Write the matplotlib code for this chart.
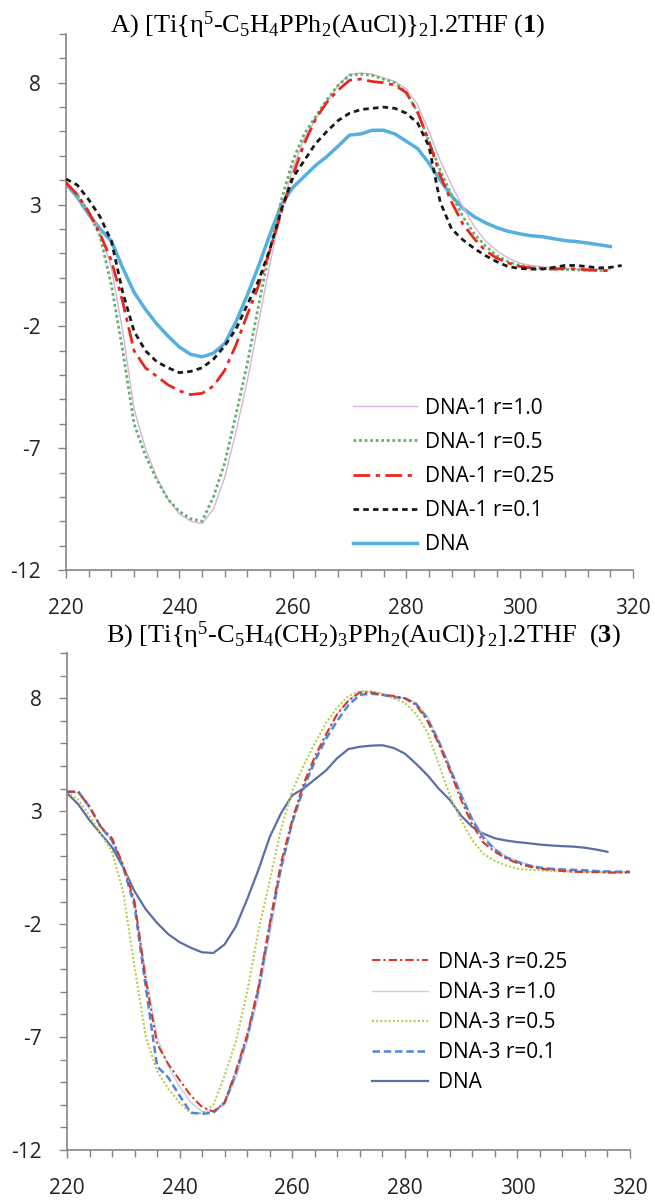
import numpy as np
import matplotlib
matplotlib.use("Agg")
import matplotlib.pyplot as plt
from matplotlib.ticker import MultipleLocator, FixedLocator

# Wavelength grid (nm), shared by all series
wavelength = np.arange(220, 321, 2)

nan = np.nan

# Panel A: DNA + complex 1
a_r10 = [3.85, 3.35, 2.7, 1.9, 0.4, -2.2, -5.4, -7.0, -8.2, -9.1, -9.7, -10.0, -10.1, -9.5, -8.2,
         -6.3, -4.2, -1.8, 0.6, 2.8, 4.5, 5.7, 6.5, 7.2, 7.9, 8.35, 8.4, 8.35, 8.2, 8.05, 7.75,
         7.1, 6.0, 4.8, 3.8, 2.9, 2.1, 1.5, 1.1, 0.8, 0.6, 0.5, 0.45, 0.4, 0.38, 0.36, 0.35,
         0.33, 0.32, nan, nan]
a_r05 = [3.9, 3.4, 2.7, 1.7, -0.3, -3.0, -6.0, -7.3, -8.3, -9.1, -9.6, -9.9, -10.0, -9.0, -7.6,
         -5.6, -3.5, -1.1, 1.2, 3.2, 4.8, 5.9, 6.6, 7.3, 7.9, 8.3, 8.35, 8.3, 8.15, 8.0, 7.6,
         6.8, 5.6, 4.4, 3.4, 2.5, 1.8, 1.3, 0.9, 0.65, 0.5, 0.42, 0.38, 0.35, 0.33, 0.32, 0.3,
         0.3, 0.28, nan, nan]
a_r025 = [3.9, 3.4, 2.7, 1.8, 0.7, -1.0, -3.0, -3.7, -4.05, -4.4, -4.65, -4.8, -4.75, -4.45, -3.8,
          -2.75, -1.5, -0.3, 1.15, 2.7, 4.2, 5.5, 6.5, 7.2, 7.7, 8.1, 8.15, 8.05, 8.0, 7.9, 7.6,
          6.8, 5.6, 4.2, 3.1, 2.2, 1.6, 1.1, 0.8, 0.6, 0.46, 0.4, 0.38, 0.35, 0.38, 0.35, 0.32,
          0.3, 0.28, nan, nan]
a_r01 = [4.05, 3.8, 3.2, 2.5, 1.5, -0.6, -2.2, -3.0, -3.45, -3.7, -3.9, -3.85, -3.7, -3.35, -2.8,
         -2.1, -1.1, -0.1, 1.2, 2.8, 4.1, 4.8, 5.5, 6.0, 6.45, 6.75, 6.9, 6.95, 7.0, 6.95, 6.75,
         6.35, 5.4, 3.1, 2.0, 1.55, 1.2, 0.9, 0.65, 0.45, 0.38, 0.35, 0.35, 0.42, 0.5, 0.5, 0.45,
         0.4, 0.42, 0.5, nan]
a_dna = [3.85, 3.3, 2.6, 2.0, 1.5, 0.4, -0.6, -1.3, -1.9, -2.4, -2.85, -3.15, -3.25, -3.1, -2.7,
         -1.8, -0.7, 0.5, 1.8, 3.0, 3.7, 4.15, 4.6, 4.97, 5.4, 5.85, 5.9, 6.05, 6.05, 5.9, 5.6,
         5.3, 4.7, 4.0, 3.35, 2.85, 2.5, 2.25, 2.05, 1.9, 1.8, 1.72, 1.68, 1.6, 1.52, 1.48, 1.42,
         1.35, 1.28, nan, nan]

# Panel B: DNA + complex 3
b_r025 = [3.86, 3.86, 3.2, 2.3, 1.8, 0.6, -1.0, -4.5, -7.3, -8.2, -8.9, -9.6, -10.1, -10.3, -9.9,
          -8.5, -6.9, -4.8, -2.0, 0.7, 2.6, 4.2, 5.4, 6.4, 7.3, 7.9, 8.25, 8.25, 8.15, 8.1, 8.0,
          7.7, 7.0, 6.0, 4.8, 3.5, 2.4, 1.6, 1.2, 0.9, 0.7, 0.55, 0.45, 0.4, 0.35, 0.32, 0.3,
          0.3, 0.28, 0.28, 0.3]
b_r10 = [3.86, 3.8, 3.1, 2.3, 1.7, 0.6, -1.0, -4.2, -7.0, -8.3, -9.2, -9.9, -10.3, -10.3, -10.0,
         -8.8, -7.2, -5.2, -2.5, 0.3, 2.4, 4.0, 5.3, 6.3, 7.3, 7.9, 8.3, 8.3, 8.2, 8.1, 8.0,
         7.8, 7.2, 6.2, 5.0, 3.8, 2.7, 1.9, 1.35, 1.0, 0.8, 0.62, 0.5, 0.45, 0.4, 0.38, 0.35,
         0.33, 0.32, 0.32, 0.3]
b_r05 = [3.86, 3.5, 2.8, 2.0, 1.2, -0.6, -3.9, -7.0, -8.5, -9.3, -9.9, -10.37, -10.37, -10.0, -8.7,
         -7.2, -5.0, -2.3, -0.1, 2.2, 3.9, 5.0, 6.0, 6.9, 7.6, 8.1, 8.3, 8.3, 8.2, 8.0, 7.8,
         7.3, 6.5, 5.1, 3.7, 2.6, 1.7, 1.1, 0.8, 0.6, 0.45, 0.4, 0.38, 0.35, 0.33, 0.32, 0.3,
         0.3, 0.28, 0.27, 0.27]
b_r01 = [3.86, 3.86, 3.2, 2.3, 1.7, 0.5, -1.2, -4.8, -8.3, -8.8, -9.6, -10.35, -10.4, -10.35, -9.9,
         -8.6, -7.0, -4.9, -2.1, 0.5, 2.5, 4.0, 5.2, 6.2, 7.0, 7.7, 8.15, 8.2, 8.15, 8.05, 8.0,
         7.75, 7.1, 6.1, 4.9, 3.7, 2.6, 1.8, 1.3, 0.95, 0.75, 0.6, 0.5, 0.45, 0.42, 0.4, 0.38,
         0.35, 0.33, 0.32, 0.32]
b_dna = [3.8, 3.3, 2.6, 2.0, 1.4, 0.5, -0.55, -1.35, -1.95, -2.45, -2.8, -3.05, -3.25, -3.28, -2.9,
         -2.1, -0.9, 0.4, 1.85, 2.9, 3.7, 4.0, 4.4, 4.8, 5.35, 5.75, 5.85, 5.9, 5.92, 5.8, 5.55,
         5.1, 4.6, 4.0, 3.5, 2.8, 2.3, 2.0, 1.8, 1.7, 1.63, 1.58, 1.52, 1.48, 1.45, 1.43, 1.38,
         1.3, 1.2, nan, nan]

labels_a = ["DNA-1 r=1.0", "DNA-1 r=0.5", "DNA-1 r=0.25", "DNA-1 r=0.1", "DNA"]
labels_b = ["DNA-3 r=0.25", "DNA-3 r=1.0", "DNA-3 r=0.5", "DNA-3 r=0.1", "DNA"]

title_a = "A) [Ti{η$^5$-C$_5$H$_4$PPh$_2$(AuCl)}$_2$].2THF ($\\mathbf{1}$)"
title_b = "B) [Ti{η$^5$-C$_5$H$_4$(CH$_2$)$_3$PPh$_2$(AuCl)}$_2$].2THF  ($\\mathbf{3}$)"

x_ticks = [220, 240, 260, 280, 300, 320]
y_ticks = [-12, -7, -2, 3, 8]

# Fonts
plt.rcParams["font.family"] = ["Open Sans", "DejaVu Sans"]
plt.rcParams["axes.unicode_minus"] = False
plt.rcParams["mathtext.fontset"] = "custom"
plt.rcParams["mathtext.rm"] = "Liberation Serif"
plt.rcParams["mathtext.it"] = "Liberation Serif:italic"
plt.rcParams["mathtext.bf"] = "Liberation Serif:bold"

AXIS_COLOR = "#8c8282"
TICK_FS = 15


def style_axes(ax):
    ax.set_xlim(220, 320)
    ax.set_ylim(-12, 10)
    ax.xaxis.set_major_locator(FixedLocator(x_ticks))
    ax.xaxis.set_minor_locator(MultipleLocator(4))
    ax.yaxis.set_major_locator(FixedLocator(y_ticks))
    ax.yaxis.set_minor_locator(MultipleLocator(1))
    for side in ["top", "right"]:
        ax.spines[side].set_visible(False)
    for side in ["left", "bottom"]:
        ax.spines[side].set_color(AXIS_COLOR)
        ax.spines[side].set_linewidth(1.2)
    ax.tick_params(which="both", direction="out", color=AXIS_COLOR, width=1.0,
                   labelsize=TICK_FS, labelcolor="#222222")
    ax.tick_params(which="major", length=6, pad=12)
    ax.tick_params(which="minor", length=5)
    ax.tick_params(axis="x", which="major", pad=14)


def main():
    fig = plt.figure(figsize=(6.55, 12.02), dpi=100)

    # Panel A
    ax1 = fig.add_axes([0.1008, 0.5258, 0.8656, 0.4459])
    ax1.plot(wavelength, a_dna, color="#55b0e0", lw=2.5, label=labels_a[4], zorder=2)
    ax1.plot(wavelength, a_r10, color="#d9b3d6", lw=1.0, label=labels_a[0], zorder=3)
    ax1.plot(wavelength, a_r05, color="#5fb36f", lw=2.0, ls=(0, (1, 1)), label=labels_a[1], zorder=4)
    ax1.plot(wavelength, a_r025, color="#e8281e", lw=2.0, ls=(0, (6, 2, 1.5, 2)), label=labels_a[2], zorder=5)
    ax1.plot(wavelength, a_r01, color="#1a1a1a", lw=2.0, ls=(0, (2, 1.5)), label=labels_a[3], zorder=6)
    style_axes(ax1)
    h, l = ax1.get_legend_handles_labels()
    order = [l.index(s) for s in labels_a]
    ax1.legend([h[i] for i in order], [l[i] for i in order], loc="upper left",
               bbox_to_anchor=(0.506, 0.3216), frameon=False, fontsize=TICK_FS,
               borderpad=0, borderaxespad=0, handlelength=3.1, handletextpad=0.38,
               labelspacing=0.63)

    # Panel B
    ax2 = fig.add_axes([0.1023, 0.0433, 0.8595, 0.4134])
    ax2.plot(wavelength, b_dna, color="#5b6ea8", lw=1.6, label=labels_b[4], zorder=2)
    ax2.plot(wavelength, b_r10, color="#c5d0e2", lw=1.0, label=labels_b[1], zorder=3)
    ax2.plot(wavelength, b_r05, color="#b5cf4a", lw=1.5, ls=(0, (1, 1)), label=labels_b[2], zorder=4)
    ax2.plot(wavelength, b_r01, color="#4f86d6", lw=1.8, ls=(0, (3, 1.5)), label=labels_b[3], zorder=5)
    ax2.plot(wavelength, b_r025, color="#d43a2a", lw=1.5, ls=(0, (4, 1.5, 1, 1.5)), label=labels_b[0], zorder=6)
    style_axes(ax2)
    h, l = ax2.get_legend_handles_labels()
    order = [l.index(s) for s in labels_b]
    ax2.legend([h[i] for i in order], [l[i] for i in order], loc="upper left",
               bbox_to_anchor=(0.542, 0.399), frameon=False, fontsize=TICK_FS,
               borderpad=0, borderaxespad=0, handlelength=2.7, handletextpad=0.48,
               labelspacing=0.44)

    # Titles
    fig.text(0.500, 1 - 32 / 1202, title_a, ha="center", va="baseline",
             fontsize=19, family="Liberation Serif")
    fig.text(0.554, 1 - 642 / 1202, title_b, ha="center", va="baseline",
             fontsize=19, family="Liberation Serif")

    fig.savefig("out.png", dpi=100)


if __name__ == "__main__":
    main()
